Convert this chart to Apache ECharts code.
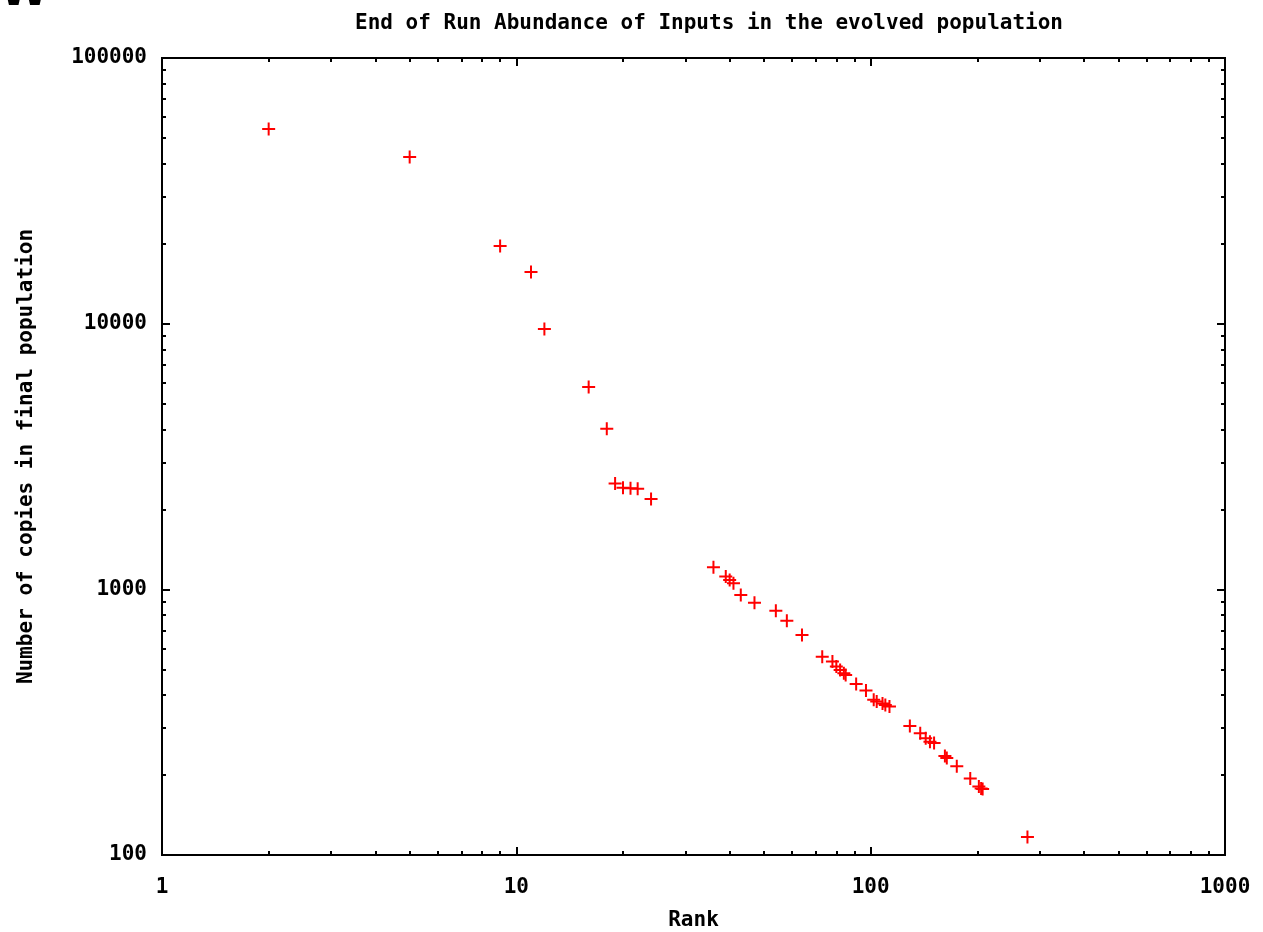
<!DOCTYPE html>
<html>
<head>
<meta charset="utf-8">
<title>End of Run Abundance</title>
<script src="https://cdn.jsdelivr.net/npm/echarts@6/dist/echarts.min.js"></script>
<style>
  html, body { margin: 0; padding: 0; background: #fff; }
  #main { width: 1263px; height: 932px; }
</style>
</head>
<body>
<div id="main"></div>
<script>
// rank of each input and its number of copies
const ranks = [2, 5, 9, 11, 12, 16, 18, 19, 20, 21, 22, 24, 36, 39, 40, 41, 43, 47, 54, 58, 64,
    73, 78, 80, 82, 84, 85, 91, 97, 102, 104, 108, 110, 113, 129, 138, 143, 147, 151,
    162, 164, 175, 191, 202, 205, 207, 277];
const copies = [54000, 42400, 19600, 15650, 9550, 5780, 4020, 2500, 2410, 2400, 2390, 2190,
    1210, 1117, 1084, 1054, 953, 891, 830, 762, 673, 558, 535, 512, 497, 483, 476, 440, 416,
    384, 378, 372, 367, 362, 306, 287, 275, 267, 264, 236, 232, 216, 194, 181, 178, 177, 117];

// tick positions
const xMajor = [1, 10, 100, 1000];
const yMajor = [100, 1000, 10000, 100000];
const minorOf = (majors) => {
    let out = [];
    for (let i = 0; i < majors.length - 1; i++) {
        for (let k = 2; k <= 9; k++) out.push(majors[i] * k);
    }
    return out;
};
const xMinor = minorOf(xMajor);
const yMinor = minorOf(yMajor);

const pixFont = {
    fontFamily: 'DejaVu Sans Mono',
    fontWeight: 'bold',
    fontSize: 21,
    color: '#000'
};

// one axis definition; several are stacked to get long + short inward ticks on all sides
function makeAxis(pos, min, max, ticks, len, labels) {
    return {
        type: 'log',
        logBase: 10,
        position: pos,
        min: min,
        max: max,
        axisLine: { show: false },
        splitLine: { show: false },
        axisTick: {
            show: true,
            inside: true,
            length: len,
            lineStyle: { color: '#000', width: 2 },
            customValues: ticks
        },
        axisLabel: labels ? Object.assign({
            customValues: ticks,
            formatter: v => String(v)
        }, labels) : { show: false }
    };
}

let myChart = echarts.init(document.getElementById('main'));

let xLabel = Object.assign({ margin: 22 }, pixFont);
let yLabel = Object.assign({ margin: 15 }, pixFont);

let xAxes = [
    makeAxis('bottom', 1, 1000, xMajor, 8, xLabel),
    makeAxis('bottom', 1, 1000, xMinor, 4),
    makeAxis('top', 1, 1000, xMajor, 8),
    makeAxis('top', 1, 1000, xMinor, 4)
];
xAxes[0].name = 'Rank';
xAxes[0].nameLocation = 'middle';
xAxes[0].nameGap = 55;
xAxes[0].nameTextStyle = pixFont;

let yAxes = [
    makeAxis('left', 100, 100000, yMajor, 8, yLabel),
    makeAxis('left', 100, 100000, yMinor, 4),
    makeAxis('right', 100, 100000, yMajor, 8),
    makeAxis('right', 100, 100000, yMinor, 4)
];
yAxes[0].name = 'Number of copies in final population';
yAxes[0].nameLocation = 'middle';
yAxes[0].nameGap = 125;
yAxes[0].nameTextStyle = pixFont;

let points = ranks.map((r, i) => [r, copies[i]]);

let option = {
    backgroundColor: '#fff',
    animation: false,
    title: {
        text: 'End of Run Abundance of Inputs in the evolved population',
        left: 704,
        top: 8,
        textAlign: 'center',
        textStyle: pixFont
    },
    // bottom of a cut-off letter at the top-left edge of the picture
    graphic: [{
        type: 'text',
        x: 0,
        y: -28,
        style: { text: 'W', font: 'bold 44px "DejaVu Sans"', fill: '#000' }
    }],
    grid: {
        left: 162,
        right: 38,
        top: 58,
        bottom: 77,
        outerBoundsMode: 'none',
        containLabel: false,
        show: true,
        borderColor: '#000',
        borderWidth: 2,
        backgroundColor: '#fff'
    },
    xAxis: xAxes,
    yAxis: yAxes,
    series: [{
        name: 'copies',
        type: 'scatter',
        xAxisIndex: 0,
        yAxisIndex: 0,
        symbol: 'path://M0,5.5 H13 V7.5 H0 Z M5.5,0 H7.5 V13 H5.5 Z',
        symbolSize: 13,
        itemStyle: { color: '#ff0000', opacity: 1 },
        data: points
    }]
};

myChart.setOption(option);
</script>
</body>
</html>
